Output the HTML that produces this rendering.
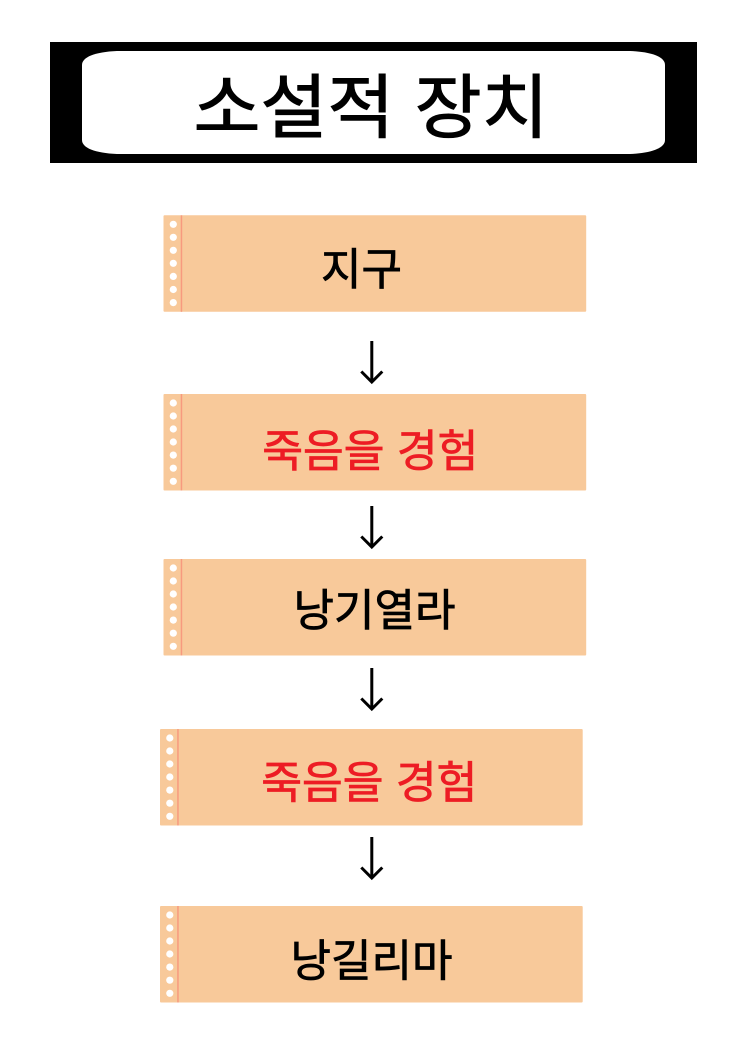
<!DOCTYPE html>
<html lang="ko"><head><meta charset="utf-8">
<style>
html,body{margin:0;padding:0;background:#fff}
#p{position:relative;width:743px;height:1051px;overflow:hidden;background:#fff;font-family:"Liberation Sans","Noto Sans CJK KR",sans-serif}
svg{position:absolute;left:0;top:0}
text{font-family:"Liberation Sans","Noto Sans CJK KR",sans-serif;text-anchor:middle}
.b{font-size:44px;fill:#000;stroke:#000;stroke-width:.8}
.r{font-size:44.300px;fill:#ed1c24;stroke:#ed1c24;stroke-width:.8}
</style></head><body><div id="p">
<svg width="743" height="1051" viewBox="0 0 743 1051">
<defs>
<g id="card">
<rect x="0" y="0" width="422.700" height="96.500" rx="1" fill="#f8c99a"/>
<rect x="17.200" y="0" width="1.500" height="96.500" fill="#f79a7e"/>
<g fill="#fff">
<circle cx="9.800" cy="9" r="3.600"/><circle cx="9.800" cy="22" r="3.600"/><circle cx="9.800" cy="35" r="3.600"/><circle cx="9.800" cy="48" r="3.600"/><circle cx="9.800" cy="61.100" r="3.600"/><circle cx="9.800" cy="74.200" r="3.600"/><circle cx="9.800" cy="87.300" r="3.600"/>
</g>
</g>
<g id="arr" fill="none" stroke="#000" stroke-width="3">
<path d="M0 0V41"/><path d="M-10.500 30.500L0 41L10.500 30.500"/>
</g>
</defs>
<rect x="50" y="42" width="647" height="121" fill="#000"/>
<path d="M117 51H630C652 52 665 57 665 65V140C665 148 652 153 630 154H117C95 153 82 148 82 140V65C82 57 95 52 117 51Z" fill="#fff"/>
<text transform="translate(371 132) scale(1.04 1)" font-size="70" fill="#000" stroke="#000" stroke-width="1">소설적 장치</text>
<use href="#card" x="163.500" y="215.300"/>
<use href="#card" x="163.500" y="394"/>
<use href="#card" x="163.500" y="559"/>
<use href="#card" x="160" y="729"/>
<use href="#card" x="160" y="906"/>
<text class="b" x="361.500" y="284.500">지구</text>
<text class="r" x="370.300" y="466.500">죽음을 경험</text>
<text class="b" x="374.500" y="625.500">낭기열라</text>
<text class="r" x="369.300" y="798">죽음을 경험</text>
<text class="b" x="371.500" y="976">낭길리마</text>
<use href="#arr" x="371.800" y="341"/>
<use href="#arr" x="371.800" y="506"/>
<use href="#arr" x="371.800" y="668"/>
<use href="#arr" x="371.800" y="837"/>
</svg>
</div></body></html>
